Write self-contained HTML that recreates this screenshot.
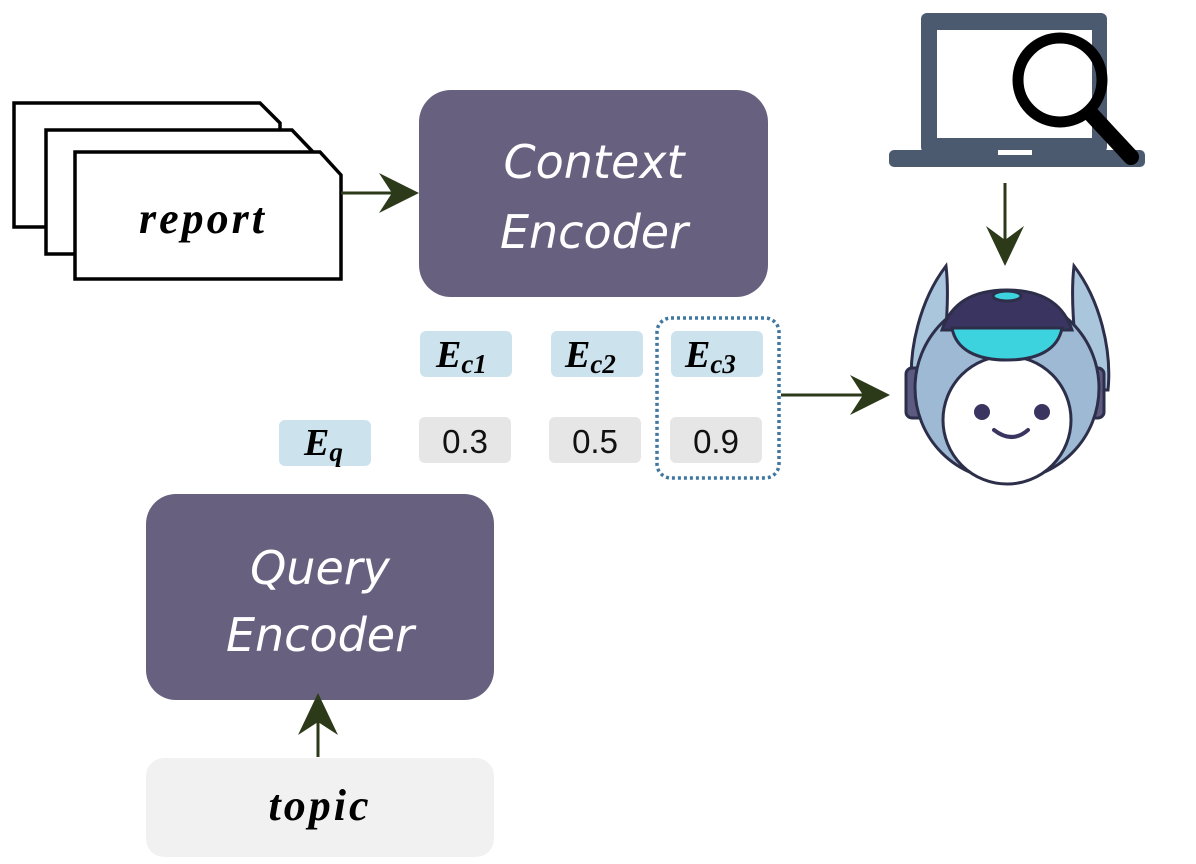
<!DOCTYPE html>
<html><head><meta charset="utf-8"><style>
html,body{margin:0;padding:0;background:#fff}
svg{display:block}
.enc{font-family:"DejaVu Sans","Liberation Sans",sans-serif;font-style:italic;fill:#fff;font-size:46px}
.math{font-family:"Liberation Serif","DejaVu Serif",serif;font-style:italic;font-weight:bold;fill:#000}
.num{font-family:"Liberation Sans","DejaVu Sans",sans-serif;fill:#111;font-size:33px}
</style></head><body>
<svg width="1196" height="864" viewBox="0 0 1196 864" xmlns="http://www.w3.org/2000/svg">
<g fill="#fff" stroke="#000" stroke-width="3.5" stroke-linejoin="miter">
<path d="M14,103 L260,103 L280,123 L280,227 L14,227 Z"/>
<path d="M46,130 L292,130 L313,152 L313,254 L46,254 Z"/>
<path d="M75,152 L320,152 L341,175 L341,279 L75,279 Z"/>
</g>
<text x="203" y="233" text-anchor="middle" class="math" font-size="44" letter-spacing="3">report</text>
<g stroke="#2c3a1a" stroke-width="3" fill="#2c3a1a">
<line x1="341" y1="193" x2="414" y2="193"/>
<path d="M419,193 L379,173 L392,193 L379,213 Z" stroke="none"/>
</g>
<rect x="419" y="90" width="349" height="207" rx="32" fill="#67617f"/>
<text x="594" y="178" text-anchor="middle" class="enc">Context</text>
<text x="594" y="248" text-anchor="middle" class="enc">Encoder</text>
<g fill="#cce3ee">
<rect x="420" y="331" width="92" height="46" rx="6"/>
<rect x="551" y="331" width="92" height="46" rx="6"/>
<rect x="671" y="331" width="92" height="46" rx="6"/>
<rect x="279" y="420" width="92" height="46" rx="6"/>
</g>
<g fill="#e6e6e6">
<rect x="419" y="417" width="92" height="46" rx="6"/>
<rect x="549" y="417" width="92" height="46" rx="6"/>
<rect x="670" y="417" width="92" height="46" rx="6"/>
</g>
<text x="436" y="367" class="math" font-size="38">E<tspan font-size="27" dy="6">c1</tspan></text>
<text x="565" y="367" class="math" font-size="38">E<tspan font-size="27" dy="6">c2</tspan></text>
<text x="685" y="367" class="math" font-size="38">E<tspan font-size="27" dy="6">c3</tspan></text>
<text x="304" y="455" class="math" font-size="38">E<tspan font-size="27" dy="6">q</tspan></text>
<text x="465" y="453" text-anchor="middle" class="num">0.3</text>
<text x="595" y="453" text-anchor="middle" class="num">0.5</text>
<text x="716" y="453" text-anchor="middle" class="num">0.9</text>
<rect x="657" y="318" width="122" height="160" rx="14" fill="none" stroke="#3f77a0" stroke-width="3.5" stroke-dasharray="3 3"/>
<g stroke="#2c3a1a" stroke-width="3" fill="#2c3a1a">
<line x1="781" y1="395" x2="884" y2="395"/>
<path d="M890,395 L850,375 L863,395 L850,415 Z" stroke="none"/>
</g>
<rect x="146" y="494" width="348" height="206" rx="30" fill="#67617f"/>
<text x="320" y="584" text-anchor="middle" class="enc">Query</text>
<text x="320" y="651" text-anchor="middle" class="enc">Encoder</text>
<rect x="146" y="758" width="348" height="99" rx="18" fill="#f1f1f1"/>
<text x="320" y="820" text-anchor="middle" class="math" font-size="44" letter-spacing="3">topic</text>
<g stroke="#2c3a1a" stroke-width="3" fill="#2c3a1a">
<line x1="318" y1="757" x2="318" y2="700"/>
<path d="M318,693 L298,735 L318,722 L338,735 Z" stroke="none"/>
</g>
<rect x="921" y="13" width="186" height="140" rx="6" fill="#4c5a70"/>
<rect x="937" y="30" width="155" height="108" fill="#fff"/>
<rect x="889" y="150" width="256" height="17" rx="5" fill="#4c5a70"/>
<rect x="998" y="150" width="34" height="5" fill="#fff"/>
<circle cx="1060" cy="80" r="42" fill="none" stroke="#000" stroke-width="11"/>
<line x1="1092" y1="115" x2="1131" y2="157" stroke="#000" stroke-width="16" stroke-linecap="round"/>
<g stroke="#2c3a1a" stroke-width="3" fill="#2c3a1a">
<line x1="1005" y1="183" x2="1005" y2="258"/>
<path d="M1005,266 L986,226 L1005,240 L1024,226 Z" stroke="none"/>
</g>
<g stroke="#2d2f4a" stroke-width="3">
<path d="M946,266 C920,300 908,350 912,390 L940,390 C945,340 950,300 946,266 Z" fill="#a9c6dc"/>
<path d="M1074,266 C1100,300 1112,350 1108,390 L1080,390 C1075,340 1070,300 1074,266 Z" fill="#a9c6dc"/>
<rect x="906" y="368" width="22" height="50" rx="6" fill="#5d5a82"/>
<rect x="1082" y="368" width="22" height="50" rx="6" fill="#5d5a82"/>
<circle cx="1007" cy="388" r="92" fill="#9db9d3"/>
<circle cx="1007" cy="420" r="64" fill="#fff"/>
<path d="M942,330 C952,300 977,290 1007,290 C1037,290 1062,300 1072,330 Z" fill="#3a3560"/>
<path d="M952,328 L1062,328 C1058,350 1037,360 1007,360 C977,360 956,350 952,328 Z" fill="#3cd2de"/>
<ellipse cx="1007" cy="296" rx="14" ry="5" fill="#3cd2de"/>
</g>
<circle cx="982" cy="412" r="8" fill="#3a3560"/>
<circle cx="1042" cy="412" r="8" fill="#3a3560"/>
<path d="M994,430 Q1012,444 1028,430" fill="none" stroke="#3a3560" stroke-width="4" stroke-linecap="round"/>
</svg>
</body></html>
